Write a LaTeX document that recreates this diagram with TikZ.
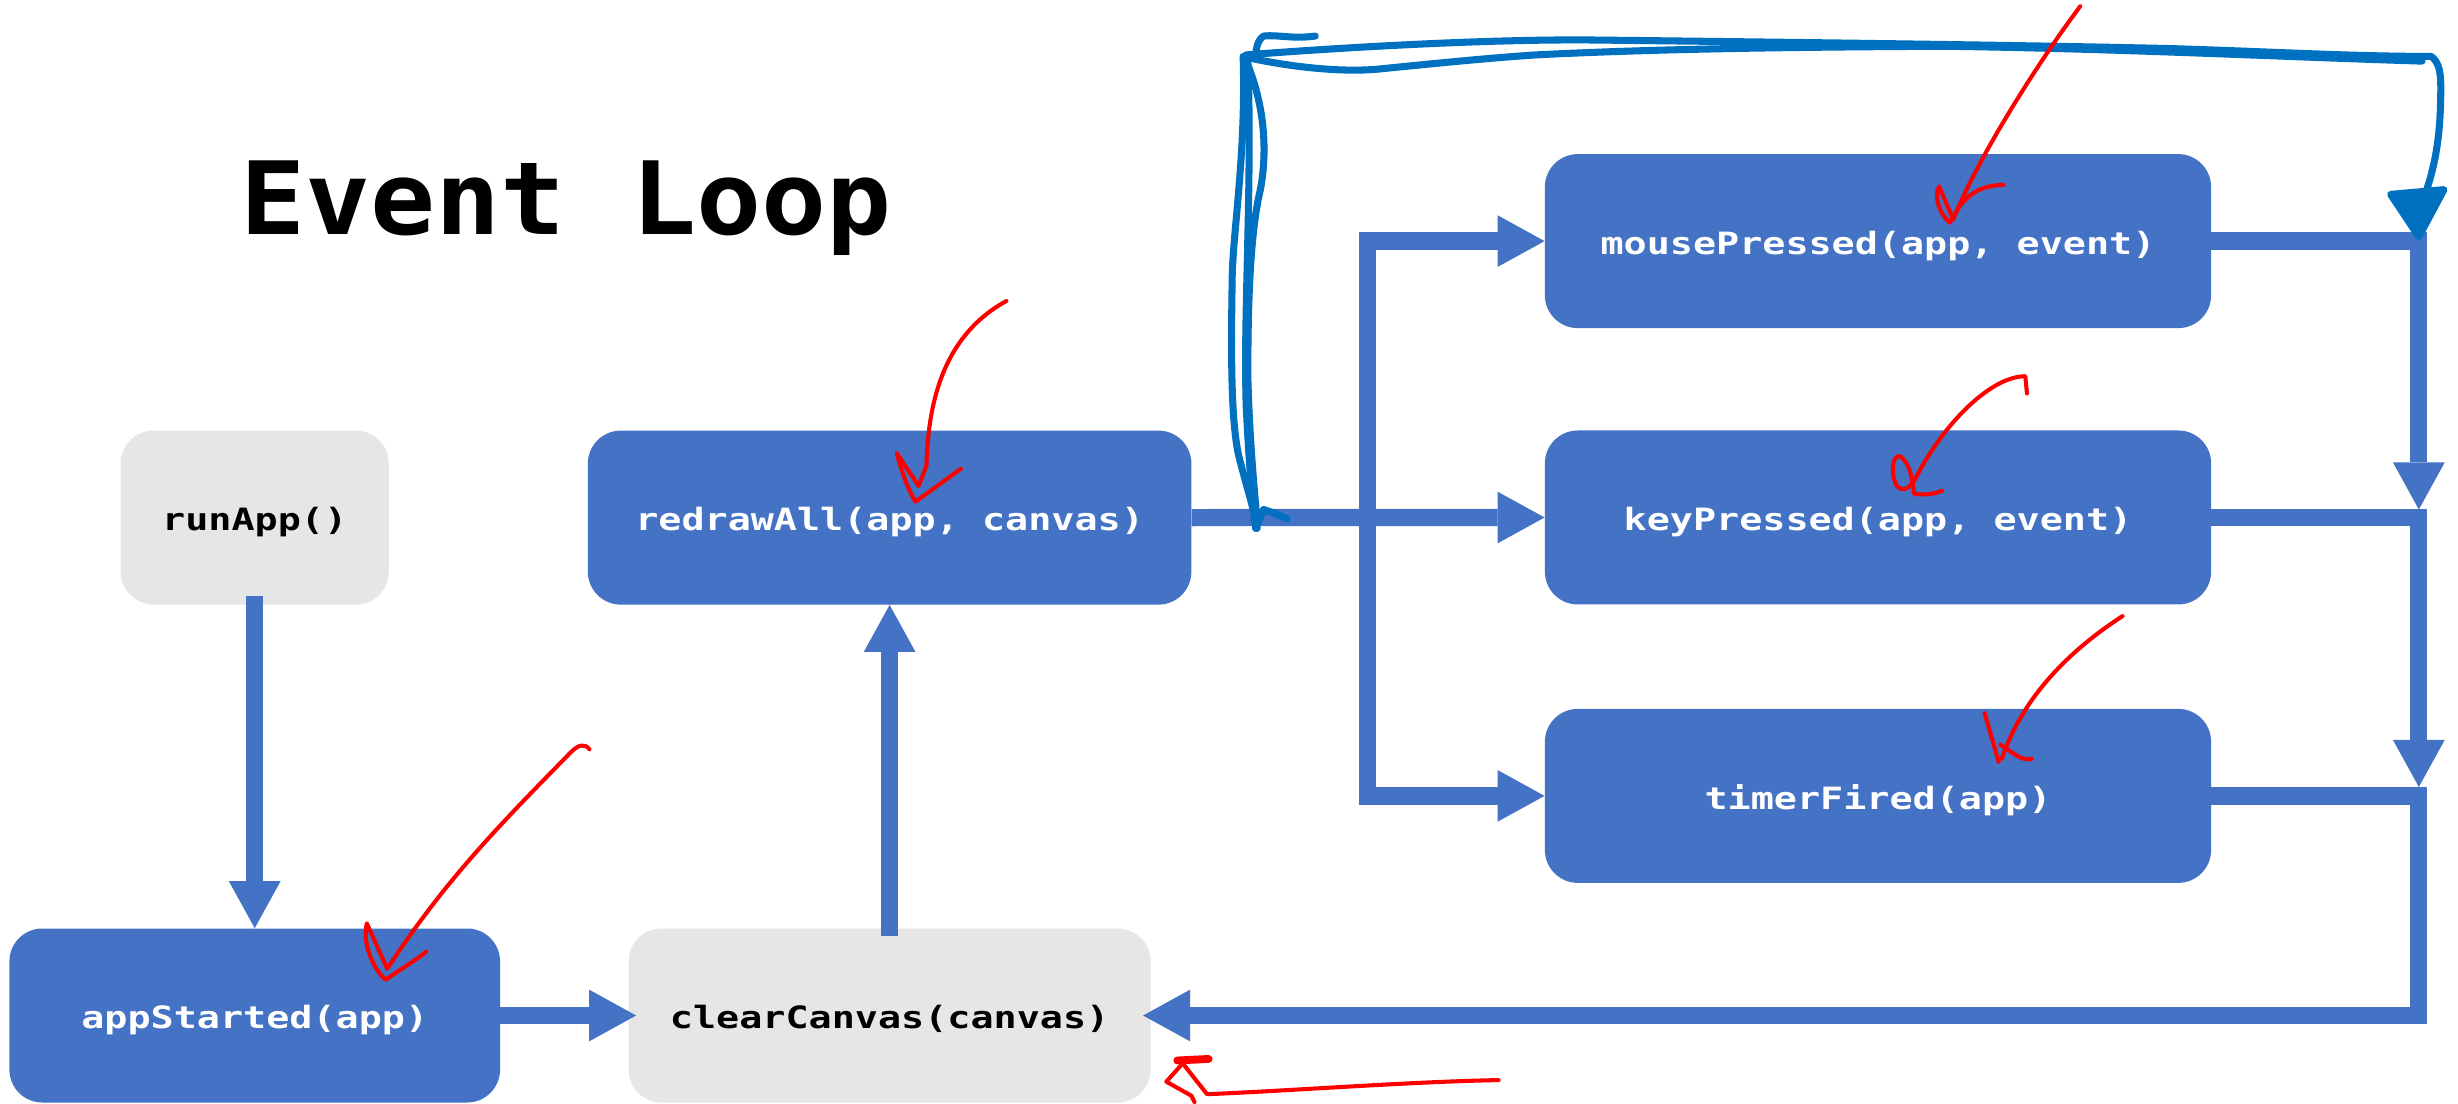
\documentclass[tikz,border=0pt]{standalone}
\usepackage{fontspec}
\newfontfamily\boxfont[FakeStretch=1.25]{DejaVu Sans Mono}
\newfontfamily\titlefont[FakeStretch=1.07]{DejaVu Sans Mono}
\usetikzlibrary{arrows.meta}
\definecolor{boxblue}{HTML}{4472C4}
\definecolor{boxgray}{HTML}{E7E6E6}
\definecolor{penblue}{HTML}{0070C0}
\definecolor{penred}{HTML}{FF0000}
\tikzset{
  boxbase/.style={rounded corners=21pt, minimum height=111pt, inner sep=0pt,
    font=\boxfont\bfseries\fontsize{19.6}{22}\selectfont, text height=17pt, text depth=0pt},
  bluebox/.style={boxbase, fill=boxblue, text=white},
  graybox/.style={boxbase, fill=boxgray, text=black},
  titletext/.style={font=\titlefont\bfseries\fontsize{64.5}{70}\selectfont, inner sep=0pt, anchor=base},
  conn/.style={draw=boxblue, line width=11pt, line join=miter},
  arr/.style={-{Triangle[length=30pt,width=33pt,line width=0pt]}},
  redpen/.style={draw=penred, line width=2.6pt, line cap=round, line join=round},
  redblob/.style={draw=penred, line width=5pt, line cap=round, line join=round},
  bluepen/.style={draw=penblue, line width=4.5pt, line cap=round, line join=round},
}
\begin{document}
\begin{tikzpicture}[x=1pt,y=-1pt]
\useasboundingbox (0,0) rectangle (1568,704);
\fill[white] (0,0) rectangle (1568,704);

\node[titletext] (title) at (361,149.5) {Event Loop};

\node[graybox, minimum width=171pt] (ra) at (162.5,330.2) {runApp()};
\node[bluebox, minimum width=385pt] (rd) at (567.5,330.2) {redrawAll(app, canvas)};
\node[bluebox, minimum width=313pt] (as) at (162.5,647.8) {appStarted(app)};
\node[graybox, minimum width=333pt] (cc) at (567.5,647.8) {clearCanvas(canvas)};
\node[bluebox, minimum width=425pt] (mp) at (1198,153.8) {mousePressed(app, event)};
\node[bluebox, minimum width=425pt] (kp) at (1198,330.1) {keyPressed(app, event)};
\node[bluebox, minimum width=425pt] (tf) at (1198,507.7) {timerFired(app)};

\coordinate (jl) at (872.5,330.2);
\coordinate (r1) at (1543,325);
\coordinate (r2) at (1543,502);
\coordinate (rb) at (1543,647.8);

\draw[conn,arr] ([yshift=6pt]ra.south) -- (as.north);
\draw[conn,arr] ([yshift=-5pt]cc.north) -- (rd.south);
\draw[conn,arr] (as.east) -- ([xshift=5pt]cc.west);
\draw[conn,arr] (rd.east) -- (kp.west);
\draw[conn,arr] (jl) |- (mp.west);
\draw[conn,arr] (jl) |- (tf.west);
\draw[conn,arr] (mp.east) -| (r1);
\draw[conn,arr] (kp.east) -| (r2);
\draw[conn,arr] (tf.east) -| (rb) -- ([xshift=-5pt]cc.east);

% blue hand-drawn loop
\draw[bluepen] (839,23) .. controls (825,25) and (815,22) .. (806,23)
  .. controls (803,25) and (802,28) .. (801,34);
\draw[bluepen] (793,36) .. controls (795,100) and (786,150) .. (786,180)
  .. controls (785,240) and (786,270) .. (790,290)
  .. controls (795,310) and (800,325) .. (802,337);
\draw[bluepen] (795,39) .. controls (808,70) and (808,100) .. (804,121)
  .. controls (797,150) and (796,200) .. (796,240)
  .. controls (797,280) and (800,310) .. (802,334);
\draw[bluepen] (796,38) .. controls (799,120) and (793,200) .. (795,260)
  .. controls (797,300) and (799,320) .. (801,337);
\draw[bluepen] (801,337) -- (806,325) -- (812,327) -- (821,331);
\draw[bluepen] (795,35) .. controls (860,30) and (950,25) .. (1014,25.5)
  .. controls (1150,27) and (1300,29) .. (1385,31)
  .. controls (1450,33) and (1500,36) .. (1551,36)
  .. controls (1556,40) and (1557,46) .. (1557,56)
  .. controls (1557,80) and (1555,100) .. (1548,121);
\draw[bluepen] (797,37) .. controls (830,44) and (860,46) .. (880,44)
  .. controls (920,40) and (950,37) .. (980,35)
  .. controls (1060,31) and (1150,30) .. (1240,29.5)
  .. controls (1350,31) and (1450,36) .. (1545,39);
\filldraw[bluepen, fill=penblue] (1525,124) -- (1559,121) -- (1543,151) -- cycle;

% red hand-drawn arrows
\draw[redpen] (1327,4) .. controls (1300,40) and (1262,100) .. (1246,140)
  -- (1237,119) .. controls (1233,125) and (1238,138) .. (1244,142)
  .. controls (1250,130) and (1258,118) .. (1278,118);

\draw[redpen] (642,192) .. controls (600,215) and (592,260) .. (591,297)
  -- (586,310) -- (572,289) .. controls (575,300) and (579,312) .. (584,320) -- (613,299);

\draw[redpen] (1293,251) -- (1292,240) .. controls (1270,240) and (1240,270) .. (1222,305)
  .. controls (1218,312) and (1214,314) .. (1210,310)
  .. controls (1205,300) and (1208,290) .. (1212,291)
  .. controls (1218,295) and (1220,305) .. (1221,315)
  .. controls (1228,316) and (1234,315) .. (1239,313);

\draw[redpen] (1354,393) .. controls (1320,415) and (1290,445) .. (1277,484);
\draw[redpen] (1266,455) -- (1275,486);
\draw[redpen] (1276,475) .. controls (1284,480) and (1290,486) .. (1296,484);

\draw[redpen] (376,478) .. controls (373,474) and (369,475) .. (364,480)
  .. controls (320,525) and (285,560) .. (247,618)
  -- (234,589) .. controls (231,602) and (238,618) .. (246,625)
  .. controls (256,618) and (266,612) .. (272,607);

\draw[redpen] (956,689) .. controls (900,690) and (820,696) .. (770,698) -- (755,679);
\draw[redblob] (751,676.5) -- (771,675.5);
\draw[redpen] (753,680) -- (744,690) -- (760,699) -- (762,703);
\end{tikzpicture}
\end{document}
